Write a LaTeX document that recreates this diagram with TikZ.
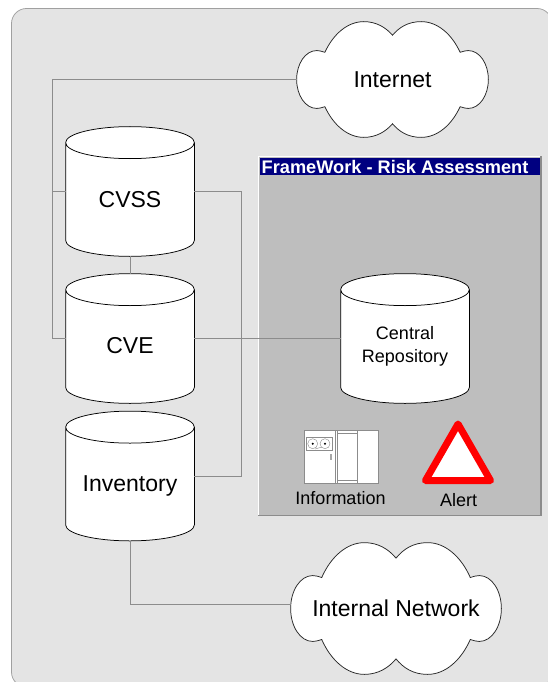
\documentclass[tikz,border=0pt]{standalone}
\usepackage{fontspec}
\setmainfont{Liberation Sans}
\makeatletter
\def\bx@set{%
  \southwest \pgf@xa=\pgf@x \pgf@ya=\pgf@y
  \northeast \pgf@xb=\pgf@x \pgf@yb=\pgf@y
  \pgf@xc=\pgf@xb \advance\pgf@xc by -\pgf@xa \divide\pgf@xc by 2
  \pgf@yc=\pgf@yb \advance\pgf@yc by -\pgf@ya \divide\pgf@yc by 2
  \edef\bxw{\the\pgf@xc}\edef\bxh{\the\pgf@yc}%
  \advance\pgf@xa by \pgf@xc \advance\pgf@ya by \pgf@yc
  \edef\bxx{\the\pgf@xa}\edef\bxy{\the\pgf@ya}%
}
\def\cp(#1,#2){\pgfpoint{\bxx+(#1)*\bxw}{\bxy+(#2)*\bxh}}
\pgfdeclareshape{bumpcloud}{%
  \inheritsavedanchors[from=rectangle]
  \inheritanchorborder[from=rectangle]
  \inheritanchor[from=rectangle]{center}
  \inheritanchor[from=rectangle]{north}
  \inheritanchor[from=rectangle]{south}
  \inheritanchor[from=rectangle]{east}
  \inheritanchor[from=rectangle]{west}
  \backgroundpath{%
    \bx@set
    \pgfpathmoveto{\cp(-.705,.47)}
    \pgfpathcurveto{\cp(-.62,.78)}{\cp(-.47,1)}{\cp(-.30,1)}
    \pgfpathcurveto{\cp(-.17,1)}{\cp(-.07,.9)}{\cp(0,.765)}
    \pgfpathcurveto{\cp(.07,.9)}{\cp(.16,1)}{\cp(.30,1)}
    \pgfpathcurveto{\cp(.47,1)}{\cp(.62,.78)}{\cp(.705,.47)}
    \pgfpathcurveto{\cp(.74,.49)}{\cp(.77,.5)}{\cp(.79,.5)}
    \pgfpathcurveto{\cp(.91,.5)}{\cp(1,.27)}{\cp(1,0)}
    \pgfpathcurveto{\cp(1,-.27)}{\cp(.91,-.5)}{\cp(.79,-.5)}
    \pgfpathcurveto{\cp(.77,-.5)}{\cp(.74,-.49)}{\cp(.705,-.47)}
    \pgfpathcurveto{\cp(.62,-.78)}{\cp(.47,-1)}{\cp(.30,-1)}
    \pgfpathcurveto{\cp(.16,-1)}{\cp(.07,-.9)}{\cp(0,-.765)}
    \pgfpathcurveto{\cp(-.07,-.9)}{\cp(-.17,-1)}{\cp(-.30,-1)}
    \pgfpathcurveto{\cp(-.47,-1)}{\cp(-.62,-.78)}{\cp(-.705,-.47)}
    \pgfpathcurveto{\cp(-.74,-.49)}{\cp(-.77,-.5)}{\cp(-.79,-.5)}
    \pgfpathcurveto{\cp(-.91,-.5)}{\cp(-1,-.27)}{\cp(-1,0)}
    \pgfpathcurveto{\cp(-1,.27)}{\cp(-.91,.5)}{\cp(-.79,.5)}
    \pgfpathcurveto{\cp(-.77,.5)}{\cp(-.74,.49)}{\cp(-.705,.47)}
    \pgfpathclose
  }%
}
\pgfdeclareshape{drum}{%
  \inheritsavedanchors[from=rectangle]
  \inheritanchorborder[from=rectangle]
  \inheritanchor[from=rectangle]{center}
  \inheritanchor[from=rectangle]{north}
  \inheritanchor[from=rectangle]{south}
  \inheritanchor[from=rectangle]{east}
  \inheritanchor[from=rectangle]{west}
  \backgroundpath{%
    \bx@set
    \pgfmathsetmacro\ryy{16/(\bxh/1pt)}%
    \pgfmathsetmacro\kyy{\ryy*0.5523}%
    \pgfpathmoveto{\cp(-1,1-\ryy)}
    \pgfpathcurveto{\cp(-1,1-\ryy+\kyy)}{\cp(-.5523,1)}{\cp(0,1)}
    \pgfpathcurveto{\cp(.5523,1)}{\cp(1,1-\ryy+\kyy)}{\cp(1,1-\ryy)}
    \pgfpathlineto{\cp(1,-1+\ryy)}
    \pgfpathcurveto{\cp(1,-1+\ryy-\kyy)}{\cp(.5523,-1)}{\cp(0,-1)}
    \pgfpathcurveto{\cp(-.5523,-1)}{\cp(-1,-1+\ryy-\kyy)}{\cp(-1,-1+\ryy)}
    \pgfpathclose
    \pgfpathmoveto{\cp(1,1-\ryy)}
    \pgfpathcurveto{\cp(1,1-\ryy-\kyy)}{\cp(.5523,1-2*\ryy)}{\cp(0,1-2*\ryy)}
    \pgfpathcurveto{\cp(-.5523,1-2*\ryy)}{\cp(-1,1-\ryy-\kyy)}{\cp(-1,1-\ryy)}
  }%
}
\makeatother
\definecolor{bgpanel}{HTML}{E4E4E4}
\definecolor{framepanel}{HTML}{BEBEBE}
\definecolor{wire}{HTML}{8C8C8C}
\definecolor{titlebar}{HTML}{000080}
\definecolor{edgegray}{HTML}{A0A0A0}
\tikzset{
  x=1pt,y=-1pt,
  db/.style={shape=drum,draw=black,fill=white,line width=.75pt,minimum width=128pt,minimum height=129pt,inner sep=0pt,font=\fontsize{23}{26}\selectfont,text height=40pt,text depth=8pt},
  netcloud/.style={shape=bumpcloud,draw=black!85,fill=white,line width=.75pt,inner sep=0pt,font=\fontsize{23}{26}\selectfont},
  wireline/.style={draw=wire,line width=.75pt},
  smalltext/.style={font=\fontsize{18}{22}\selectfont,inner sep=0pt},
  iconline/.style={draw=black!45,line width=.6pt},
}
\begin{document}
\begin{tikzpicture}
\useasboundingbox (0,0) rectangle (547,682);
\fill[white] (0,0) rectangle (547,682);
\draw[fill=bgpanel,draw=edgegray,line width=.75pt,rounded corners=15pt] (11.5,8.5) -- (552,8.5) -- (552,687) -- (11.5,687) -- cycle;
% frame panel
\node[draw=none,fill=framepanel,minimum width=283pt,minimum height=360pt,inner sep=0pt,anchor=north west] (panel) at (258,156) {};
\draw[white,line width=1pt] (258,516) -- (258,156) -- (541,156);
\draw[black!45,line width=1.4pt] (258,515.5) -- (541,515.5) -- (541,156);
\node[fill=titlebar,text=white,font=\bfseries\fontsize{18.2}{20}\selectfont,minimum width=280.5pt,minimum height=17.5pt,inner sep=0pt,anchor=north west,text depth=0pt] (title) at (259.5,157.5) {\makebox[276.5pt][l]{FrameWork - Risk Assessment}};
% nodes
\node[db] (cvss) at (130,191.5) {CVSS};
\node[db,text height=38pt] (cve) at (130,338.5) {CVE};
\node[db,text height=38pt] (inv) at (130,476) {Inventory};
\node[db,font=\fontsize{18}{23}\selectfont,align=center,text height=56pt] (repo) at (405,338.5) {Central\\Repository};
\node[netcloud,minimum width=191pt,minimum height=115pt] (inet) at (392.5,79.5) {Internet};
\node[netcloud,minimum width=210pt,minimum height=131pt] (intnet) at (396,608.5) {Internal Network};
% connectors
\coordinate (lb) at (52,79.5);
\coordinate (lb2) at (52,191.5);
\coordinate (lb3) at (52,338.5);
\coordinate (rb) at (241,191.5);
\coordinate (rb2) at (241,476);
\coordinate (bb) at (130,604);
\draw[wireline] (inet.west) -- (lb) -- (lb3) -- (cve.west);
\draw[wireline] (lb2) -- (cvss.west);
\draw[wireline] (cvss.east) -- (rb) -- (rb2) -- (inv.east);
\draw[wireline] (cvss.south) -- (cve.north);
\draw[wireline] (cve.east) -- (repo.west);
\draw[wireline] (inv.south) -- (bb) -- (intnet.west |- bb);
% information icon
\node[fill=white,minimum width=73.5pt,minimum height=53pt,inner sep=0pt,anchor=north west] (icon) at (304.3,430) {};
\draw[iconline] (icon.north west) rectangle (icon.south east);
\draw[iconline] (335,430) -- (335,483) (337.5,430) -- (337.5,483) (357.5,430) -- (357.5,483);
\draw[iconline] (337.5,433.5) -- (357.5,433.5) (337.5,480) -- (357.5,480);
\draw[iconline] (306.5,437.5) rectangle (332,450.5);
\draw[iconline,line width=.4pt] (312.7,443.7) circle (5) (325,443.7) circle (5);
\fill[black] (312.7,443.7) circle (1.1) (325,443.7) circle (1.1);
\draw[iconline,line width=.4pt] (315,449) -- (322,447);
\fill[black!35] (330.3,454) rectangle (331.8,460);
\node[smalltext,anchor=base] (infolabel) at (340.5,504) {Information};
% alert
\draw[draw=red,fill=white,line width=7pt,line join=round] (458,424) -- (490.5,480.5) -- (425.5,480.5) -- cycle;
\node[smalltext,anchor=base] (alertlabel) at (458.5,506) {Alert};
\end{tikzpicture}
\end{document}
